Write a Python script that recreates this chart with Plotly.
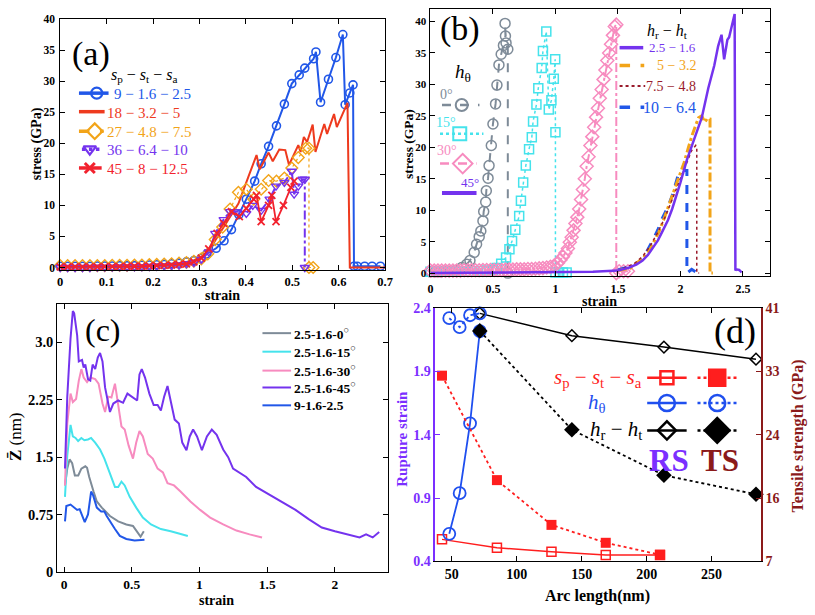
import plotly.graph_objects as go

# ================= DATA =================
# ---- panel (a): stress vs strain for s_p - s_t - s_a ----
a_names = ["9 − 1.6 − 2.5", "18 − 3.2 − 5", "27 − 4.8 − 7.5", "36 − 6.4 − 10", "45 − 8 − 12.5"]
a_low_strain = [0, 0.016, 0.032, 0.048, 0.064, 0.08, 0.096, 0.112, 0.128, 0.144, 0.16, 0.176,
                0.192, 0.208, 0.224, 0.24, 0.256, 0.272, 0.288]

a1_strain = a_low_strain + [0.304, 0.316, 0.336, 0.353, 0.369, 0.385, 0.401, 0.419, 0.433, 0.449, 0.466,
                            0.483, 0.499, 0.515, 0.527, 0.546, 0.551, 0.561, 0.578, 0.594, 0.609, 0.614,
                            0.624, 0.631, 0.633, 0.64, 0.656, 0.672, 0.69]
a1_stress = [0.2, 0.2, 0.2, 0.2, 0.2, 0.25, 0.25, 0.25, 0.3, 0.3, 0.3, 0.35, 0.4, 0.45, 0.5, 0.6, 0.7, 0.9, 1.1,
             1.5, 2.2, 3.1, 4.3, 6.1, 8.5, 11.0, 13.9, 16.7, 19.5, 22.8, 26.3, 29.6, 31.0, 32.1, 33.6, 34.7,
             26.6, 30.3, 33.8, 37.5, 26.2, 28.1, 29.4, 0.2, 0.2, 0.2, 0.2, 0.2]

a2_strain = [0, 0.05, 0.1, 0.15, 0.2, 0.25, 0.28, 0.3, 0.32, 0.352, 0.384, 0.405, 0.423, 0.430, 0.449,
             0.458, 0.472, 0.485, 0.493, 0.513, 0.518, 0.525, 0.532, 0.544, 0.550, 0.569, 0.575, 0.590,
             0.596, 0.619, 0.624, 0.66, 0.7]
a2_stress = [0.1, 0.1, 0.15, 0.2, 0.3, 0.5, 0.9, 1.5, 2.7, 6.5, 10.3, 14.5, 18.1, 15.8, 18.5,
             17.1, 19.0, 18.9, 16.5, 19.7, 18.6, 21.0, 20.2, 23.0, 18.6, 23.1, 21.5, 24.7,
             22.6, 26.5, 0, 0, 0]

a3_strain = a_low_strain + [0.304, 0.318, 0.334, 0.35, 0.366, 0.384, 0.401, 0.417, 0.433, 0.449, 0.466,
                            0.483, 0.499, 0.513, 0.529, 0.536, 0.536, 0.545]
a3_stress = [0.3, 0.3, 0.3, 0.3, 0.3, 0.3, 0.3, 0.35, 0.35, 0.35, 0.4, 0.4, 0.45, 0.5, 0.55, 0.6, 0.7, 0.8, 1.0,
             1.4, 2.2, 4.5, 6.5, 9.4, 12.1, 12.6, 11.0, 12.6, 14.0, 13.9, 14.4, 16.0, 17.7, 19.2, 19.2, 0, 0]

a4_strain = a_low_strain + [0.304, 0.32, 0.334, 0.352, 0.366, 0.381, 0.401, 0.415, 0.433, 0.451, 0.465,
                            0.483, 0.499, 0.504, 0.513, 0.522, 0.527, 0.527]
a4_stress = [0.0, 0.0, 0.0, 0.0, 0.0, 0.05, 0.05, 0.05, 0.1, 0.1, 0.1, 0.1, 0.15, 0.2, 0.25, 0.3, 0.4, 0.6, 0.8,
             1.3, 2.5, 5.5, 7.7, 9.0, 9.0, 8.7, 10.0, 9.2, 11.0, 13.1, 13.7, 15.5, 11.8, 13.1, 14.2, 14.2, 0]

a5_strain = a_low_strain + [0.304, 0.32, 0.338, 0.352, 0.369, 0.386, 0.401, 0.417, 0.423, 0.433, 0.449,
                            0.456, 0.465, 0.481, 0.497, 0.504]
a5_stress = [0.1, 0.1, 0.1, 0.1, 0.1, 0.1, 0.15, 0.15, 0.15, 0.2, 0.2, 0.2, 0.25, 0.3, 0.35, 0.4, 0.5, 0.6, 0.9,
             1.5, 3.0, 5.5, 7.1, 9.0, 8.2, 9.5, 11.0, 11.6, 7.4, 10.0, 11.6, 7.4, 10.0, 12.9, 13.9]

# ---- panel (b): stress vs strain for h_theta and h_r - h_t ----
b_theta_names = ["0°", "15°", "30°", "45°"]
b_hrht_names = ["2.5 − 1.6", "5 − 3.2", "7.5 − 4.8", "10 − 6.4"]

b0_strain = [0, 0.04, 0.08, 0.12, 0.16, 0.2, 0.25, 0.29, 0.316, 0.35, 0.369, 0.39, 0.403, 0.42, 0.426,
             0.442, 0.447, 0.461, 0.469, 0.487, 0.5, 0.521, 0.532, 0.548, 0.566, 0.584, 0.6, 0.597,
             0.605, 0.619, 0.619]
b0_stress = [0.2, 0.2, 0.2, 0.3, 0.3, 0.4, 0.9, 1.4, 2.0, 3.3, 4.6, 5.8, 6.7, 8.3, 9.8,
             11.3, 13.1, 15.1, 17.1, 20.3, 23.7, 26.9, 29.9, 33.1, 34.8, 36.2, 37.7, 39.7,
             36.6, 35.6, 0]

b15_strain = [0, 0.05, 0.1, 0.15, 0.2, 0.25, 0.3, 0.35, 0.4, 0.45, 0.5, 0.53, 0.566, 0.605, 0.632,
              0.653, 0.679, 0.71, 0.724, 0.742, 0.763, 0.789, 0.811, 0.821, 0.848, 0.863, 0.89, 0.9,
              0.927, 0.947, 0.968, 0.987, 0.998, 1.0, 1.0, 1.03, 1.06, 1.09]
b15_stress = [0.2, 0.2, 0.2, 0.2, 0.2, 0.25, 0.3, 0.3, 0.35, 0.4, 0.5, 0.8, 1.5, 2.5, 3.8,
              5.1, 6.9, 9.1, 11.5, 14.4, 17.1, 19.7, 21.6, 24.1, 26.8, 29.4, 32.6, 35.3,
              38.4, 26.0, 27.5, 30.9, 34.0, 22.4, 0.1, 0.1, 0.1, 0.1]

b30_strain = [0, 0.03, 0.06, 0.09, 0.12, 0.15, 0.18, 0.21, 0.24, 0.27, 0.3, 0.33, 0.36, 0.39, 0.42,
              0.45, 0.48, 0.51, 0.54, 0.57, 0.6, 0.63, 0.66, 0.69, 0.72, 0.75, 0.78, 0.81, 0.84, 0.87,
              0.9, 0.93, 0.96, 0.99, 1.02, 1.04, 1.06, 1.08, 1.10, 1.115, 1.13, 1.145, 1.16, 1.175,
              1.19, 1.205, 1.22, 1.235, 1.25, 1.265, 1.28, 1.295, 1.31, 1.325, 1.34, 1.355, 1.37,
              1.385, 1.40, 1.415, 1.43, 1.445, 1.46, 1.475, 1.487, 1.487, 1.51, 1.545, 1.58]
b30_stress = [0.4, 0.4, 0.4, 0.4, 0.4, 0.4, 0.4, 0.4, 0.4, 0.45, 0.45, 0.45, 0.45, 0.45, 0.5,
              0.5, 0.5, 0.5, 0.5, 0.5, 0.55, 0.55, 0.55, 0.6, 0.6, 0.6, 0.65, 0.65, 0.7, 0.75,
              0.8, 0.9, 1.0, 1.2, 1.6, 2.1, 2.6, 3.2, 3.9, 4.9, 5.7, 6.8, 7.9, 8.9,
              10.2, 11.7, 13.3, 15.0, 17.0, 18.5, 20.3, 21.7, 23.2, 24.8, 26.2, 27.8, 29.2,
              30.8, 32.3, 33.8, 35.0, 36.4, 37.8, 39.2, 39.5, 0, 0.3, 0.3, 0.3]

b45_strain = [0, 0.5, 1.0, 1.3, 1.5, 1.592, 1.65, 1.697, 1.74, 1.776, 1.82, 1.855, 1.9, 1.934, 1.97,
              2.0, 2.052, 2.105, 2.171, 2.223, 2.271, 2.302, 2.329, 2.35, 2.376, 2.39, 2.407, 2.434,
              2.44, 2.447, 2.47, 2.49]
b45_stress = [0, 0.05, 0.1, 0.2, 0.4, 0.9, 1.4, 2.0, 2.9, 4.0, 5.2, 6.6, 8.4, 10.2, 12.3,
              14.4, 18.0, 21.1, 24.7, 29.4, 33.0, 36.1, 37.9, 34.0, 37.1, 37.5, 38.9, 41.2,
              0.4, 0.6, 0.5, 0.1]

b5_strain = [1.5, 1.6, 1.645, 1.7, 1.75, 1.79, 1.829, 1.87, 1.908, 1.95, 1.987, 2.03, 2.066, 2.1, 2.145,
             2.17, 2.197, 2.215, 2.237, 2.237, 2.26]
b5_stress = [0.4, 0.8, 1.5, 2.4, 3.5, 5.0, 6.6, 8.7, 10.8, 12.9, 14.9, 17.6, 20.1, 22.3, 24.7,
             25.0, 24.0, 24.6, 24.5, 0, 0]

b75_strain = [1.5, 1.63, 1.7, 1.76, 1.82, 1.88, 1.94, 2.0, 2.05, 2.09, 2.123, 2.131, 2.131, 2.15]
b75_stress = [0.4, 1.5, 2.7, 4.4, 6.5, 9.0, 12.0, 15.0, 17.5, 19.5, 20.3, 20.0, 0, 0]

b10_strain = [1.5, 1.62, 1.684, 1.73, 1.776, 1.82, 1.855, 1.9, 1.934, 1.96, 1.987, 2.02, 2.052, 2.052,
              2.07, 2.09, 2.12]
b10_stress = [0.5, 1.2, 2.0, 3.4, 5.1, 6.9, 8.7, 10.5, 12.3, 14.0, 15.9, 16.3, 16.3, 0,
              0.3, 0.6, 0.2]

# ---- panel (c): Z-bar vs strain ----
c_names = ["2.5-1.6-0", "2.5-1.6-15", "2.5-1.6-30", "2.5-1.6-45", "9-1.6-2.5"]
c0_strain = [0.007, 0.024, 0.041, 0.06, 0.08, 0.105, 0.128, 0.157, 0.17, 0.186, 0.218, 0.242, 0.279,
             0.339, 0.4, 0.46, 0.509, 0.533, 0.565, 0.589]
c0_z = [1.13, 1.35, 1.47, 1.42, 1.26, 1.26, 1.35, 1.38, 1.36, 1.24, 1.05, 0.92, 0.84,
        0.73, 0.66, 0.62, 0.60, 0.54, 0.46, 0.53]
c15_strain = [0.007, 0.024, 0.048, 0.065, 0.085, 0.104, 0.128, 0.15, 0.177, 0.2, 0.23, 0.266, 0.298,
              0.327, 0.351, 0.376, 0.4, 0.424, 0.448, 0.485, 0.533, 0.582, 0.642, 0.715, 0.788,
              0.848, 0.914]
c15_z = [0.98, 1.52, 1.92, 1.77, 1.75, 1.71, 1.75, 1.72, 1.73, 1.75, 1.69, 1.60, 1.48,
         1.35, 1.24, 1.11, 1.11, 1.18, 1.13, 0.98, 0.84, 0.71, 0.62, 0.56, 0.53,
         0.50, 0.47]
c30_strain = [0.007, 0.024, 0.048, 0.065, 0.089, 0.109, 0.128, 0.145, 0.17, 0.194, 0.23, 0.255, 0.284,
              0.303, 0.327, 0.35, 0.376, 0.4, 0.424, 0.448, 0.477, 0.509, 0.533, 0.557, 0.582,
              0.618, 0.655, 0.691, 0.73, 0.764, 0.812, 0.86, 0.933, 1.005, 1.079, 1.175, 1.273,
              1.37, 1.462]
c30_z = [1.13, 1.94, 2.33, 2.22, 2.26, 2.50, 2.65, 2.54, 2.48, 2.54, 2.52, 2.46, 2.20,
         2.09, 2.29, 2.28, 2.46, 2.20, 1.90, 1.86, 1.65, 1.48, 1.69, 1.84, 1.77,
         1.54, 1.48, 1.35, 1.30, 1.16, 1.13, 1.05, 0.92, 0.81, 0.71, 0.62, 0.54,
         0.49, 0.45]
c45_strain = [0.007, 0.024, 0.048, 0.065, 0.075, 0.097, 0.109, 0.133, 0.145, 0.157, 0.177, 0.194,
              0.211, 0.23, 0.249, 0.266, 0.284, 0.303, 0.339, 0.364, 0.4, 0.436, 0.468, 0.497,
              0.54, 0.557, 0.574, 0.598, 0.63, 0.662, 0.691, 0.715, 0.739, 0.764, 0.793, 0.817,
              0.848, 0.873, 0.904, 0.928, 0.953, 0.982, 1.018, 1.055, 1.091, 1.127, 1.175, 1.212,
              1.248, 1.297, 1.345, 1.418, 1.515, 1.612, 1.709, 1.806, 1.903, 2.0, 2.097, 2.182,
              2.23, 2.279, 2.327]
c45_z = [1.35, 2.29, 3.05, 3.41, 3.38, 3.09, 2.75, 2.77, 2.67, 2.71, 2.52, 2.50,
         2.71, 2.65, 2.80, 2.86, 2.75, 2.41, 2.09, 2.20, 2.24, 2.21, 2.33, 2.29,
         2.24, 2.58, 2.65, 2.54, 2.33, 2.18, 2.18, 2.11, 2.29, 2.43, 2.20, 1.99,
         1.94, 1.69, 1.59, 1.77, 1.86, 1.77, 1.59, 1.77, 1.86, 1.79, 1.60, 1.50,
         1.35, 1.30, 1.24, 1.11, 1.01, 0.90, 0.81, 0.69, 0.58, 0.53, 0.49, 0.45,
         0.49, 0.45, 0.52]
c9_strain = [0.007, 0.017, 0.048, 0.08, 0.097, 0.115, 0.133, 0.153, 0.177, 0.2, 0.215, 0.242, 0.274,
             0.298, 0.315, 0.339, 0.376, 0.412, 0.46, 0.521, 0.594]
c9_z = [0.66, 0.86, 0.88, 0.84, 0.81, 0.82, 0.75, 0.65, 0.75, 1.05, 1.0, 0.84, 0.79,
        0.79, 0.73, 0.66, 0.56, 0.47, 0.43, 0.41, 0.42]

# ---- panel (d): rupture strain / tensile strength vs arc length ----
d_names = ["s_p − s_t − s_a", "h_θ", "h_r − h_t"]
d_sp_arc = [42.4, 84.7, 126.7, 168.5, 210.3]
d_sp_rs = [0.574, 0.508, 0.477, 0.451, 0.451]
d_sp_ts = [31.9, 17.9, 11.9, 9.5, 7.9]
d_ht_arc = [48.0, 56.0, 64.0, 71.5]
d_ht_rs = [0.618, 0.938, 1.489, 2.215]
d_ht_ts = [39.6, 38.4, 40.0, 40.25]
d_hr_arc = [71.5, 142.4, 213.3, 284.2]
d_hr_rs = [2.356, 2.18, 2.09, 1.995]
d_hr_ts = [37.9, 24.65, 18.55, 16.0]

# ================= STYLE =================
SERIF = "Liberation Serif, DejaVu Serif, serif"
C_BLUE = "#2157E8"
C_RED = "#EE3A1E"
C_ORANGE = "#F2A419"
C_PURPLE = "#7433EE"
C_RED2 = "#F2222E"
C_GRAY = "#7E8B98"
C_CYAN = "#45E3EC"
C_PINK = "#F78BBF"
C_DARKRED = "#9A1B2C"
C_DRED = "#8B1A1A"
C_DPURPLE = "#7B2FFF"
C_DBLUE = "#1F4FEF"
C_DRED_MK = "#FF1E1E"

W, H = 815, 615
def px(x):
    return x / W
def py(y):
    return 1 - y / H

fig = go.Figure()

def add(x, y, xa, ya, **kw):
    fig.add_trace(go.Scatter(x=x, y=y, xaxis=xa, yaxis=ya, showlegend=False,
                             cliponaxis=False, hoverinfo="skip", **kw))

# ---------- panel (a) ----------
add(a1_strain, a1_stress, "x", "y", mode="lines+markers", line=dict(color=C_BLUE, width=2),
    marker=dict(symbol="circle-open", size=8, color=C_BLUE, line=dict(width=1.6)))
add(a2_strain, a2_stress, "x", "y", mode="lines", line=dict(color=C_RED, width=2))
add(a3_strain, a3_stress, "x", "y", mode="lines+markers", line=dict(color=C_ORANGE, width=1.2, dash="dot"),
    marker=dict(symbol="diamond-open", size=9, color=C_ORANGE, line=dict(width=1.4)))
add(a4_strain, a4_stress, "x", "y", mode="lines+markers", line=dict(color=C_PURPLE, width=2, dash="dashdot"),
    marker=dict(symbol="triangle-down-open", size=8, color=C_PURPLE, line=dict(width=1.4)))
add(a5_strain, a5_stress, "x", "y", mode="lines+markers", line=dict(color=C_RED2, width=1.8),
    marker=dict(symbol="x-thin", size=7, color=C_RED2, line=dict(width=1.8, color=C_RED2)))

# ---------- panel (b) ----------
add(b0_strain, b0_stress, "x2", "y2", mode="lines+markers", line=dict(color=C_GRAY, width=2, dash="dash"),
    marker=dict(symbol="circle-open", size=10, color=C_GRAY, line=dict(width=1.5)))
add(b15_strain, b15_stress, "x2", "y2", mode="lines+markers", line=dict(color=C_CYAN, width=1.5, dash="dot"),
    marker=dict(symbol="square-open", size=9, color=C_CYAN, line=dict(width=1.5)))
add(b30_strain, b30_stress, "x2", "y2", mode="lines+markers", line=dict(color=C_PINK, width=2, dash="dashdot"),
    marker=dict(symbol="diamond-open", size=10, color=C_PINK, line=dict(width=1.5)))
add(b10_strain, b10_stress, "x2", "y2", mode="lines", line=dict(color=C_BLUE, width=3, dash="dash"))
add(b5_strain, b5_stress, "x2", "y2", mode="lines", line=dict(color=C_ORANGE, width=3, dash="dashdot"))
add(b75_strain, b75_stress, "x2", "y2", mode="lines", line=dict(color=C_DARKRED, width=1.5, dash="dot"))
add(b45_strain, b45_stress, "x2", "y2", mode="lines", line=dict(color=C_PURPLE, width=2.5))

# ---------- panel (c) ----------
c_colors = [C_GRAY, C_CYAN, C_PINK, C_PURPLE, C_BLUE]
for xs, ys, col in zip([c0_strain, c15_strain, c30_strain, c45_strain, c9_strain],
                       [c0_z, c15_z, c30_z, c45_z, c9_z], c_colors):
    add(xs, ys, "x3", "y3", mode="lines", line=dict(color=col, width=2))

# ---------- panel (d) ----------
add(d_sp_arc, d_sp_rs, "x4", "y4", mode="lines+markers", line=dict(color=C_DRED_MK, width=1.5),
    marker=dict(symbol="square-open", size=9, color=C_DRED_MK, line=dict(width=1.5)))
add(d_hr_arc, d_hr_rs, "x4", "y4", mode="lines+markers", line=dict(color="black", width=1.5),
    marker=dict(symbol="diamond-open", size=9, color="black", line=dict(width=1.5)))
add(d_ht_arc, d_ht_rs, "x4", "y4", mode="lines+markers", line=dict(color=C_DBLUE, width=1.8),
    marker=dict(symbol="circle-open", size=12, color=C_DBLUE, line=dict(width=1.8)))
add(d_sp_arc, d_sp_ts, "x4", "y5", mode="lines+markers", line=dict(color=C_DRED_MK, width=1.8, dash="dot"),
    marker=dict(symbol="square", size=10, color=C_DRED_MK))
add(d_ht_arc, d_ht_ts, "x4", "y5", mode="lines+markers", line=dict(color=C_DBLUE, width=1.8, dash="dot"),
    marker=dict(symbol="circle-open", size=12, color=C_DBLUE, line=dict(width=1.8)))
add(d_hr_arc, d_hr_ts, "x4", "y5", mode="lines+markers", line=dict(color="black", width=1.8, dash="dot"),
    marker=dict(symbol="diamond", size=12, color="black"))

# ================= LEGEND GLYPHS (pixel overlay) =================
def gline(x0, x1, y, color, dash="solid", width=2):
    add([x0, x1], [y, y], "x6", "y6", mode="lines", line=dict(color=color, dash=dash, width=width))

def gmark(x, y, color, symbol, size, lw=1.8):
    add([x], [y], "x6", "y6", mode="markers",
        marker=dict(symbol=symbol, size=size, color=color, line=dict(width=lw, color=color)))

def txt(x, y, s, size, color="black", bold=False, angle=0, xanchor="center", family=SERIF):
    fig.add_annotation(x=x, y=y, xref="x6", yref="y6", text=s, showarrow=False, textangle=angle,
                       xanchor=xanchor, yanchor="middle",
                       font=dict(family=family, size=size, color=color,
                                 weight="bold" if bold else "normal"))

# (a) legend
txt(89, 48, "(a)", 34)
txt(143, 70, "<i>s</i><sub>p</sub> − <i>s</i><sub>t</sub> − <i>s</i><sub>a</sub>", 16)
a_rows = [88.3, 107.3, 127.3, 145.7, 165.0]
gline(77, 107, a_rows[0], C_BLUE, width=3.5); gmark(95, a_rows[0], C_BLUE, "circle-open", 11, 2.2)
gline(77, 103, a_rows[1], C_RED, width=3.5)
gline(77, 102, a_rows[2], C_ORANGE, width=3.5, dash="dash"); gmark(93, a_rows[2], C_ORANGE, "diamond-open", 12, 2.2)
gline(80, 100, a_rows[3], C_PURPLE, width=3.5, dash="dot"); gmark(88, a_rows[3], C_PURPLE, "triangle-down-open", 11, 2.2)
gline(77, 100, a_rows[4], C_RED2, width=3.5); gmark(88, a_rows[4], C_RED2, "x-thin", 10, 3)
a_colors = [C_BLUE, C_RED, C_ORANGE, C_PURPLE, C_RED2]
for i, (nm, col) in enumerate(zip(a_names, a_colors)):
    txt(110 if i == 0 else 103, a_rows[i] + 1, nm, 15, col, xanchor="left")

# (b) legends
txt(463, 23, "(b)", 34)
txt(466, 68, "<i>h</i><sub>θ</sub>", 19)
txt(450, 90, b_theta_names[0], 14, C_GRAY)
gline(445, 483, 100.5, C_GRAY, dash="dash", width=2.5); gmark(465, 100.5, C_GRAY, "circle-open", 12, 2)
txt(449, 118, b_theta_names[1], 14, C_CYAN)
gline(443, 487, 130, C_CYAN, dash="dot", width=2.5); gmark(463, 130, C_CYAN, "square-open", 13, 2)
txt(450, 147, b_theta_names[2], 14, C_PINK)
gline(443, 480, 160.5, C_PINK, dash="dash", width=2.5); gmark(466, 160.5, C_PINK, "diamond-open", 15, 2)
txt(473, 180, b_theta_names[3], 13, C_PURPLE)
gline(445, 480, 190.7, C_PURPLE, width=4)

txt(674, 25, "<i>h</i><sub>r</sub> − <i>h</i><sub>t</sub>", 16)
hr_rows = [41.7, 60.0, 81.0, 102.7]
gline(625, 649, hr_rows[0], C_PURPLE, width=3.5)
gline(625, 650, hr_rows[1], C_ORANGE, width=3.5, dash="dash")
gline(625, 651, hr_rows[2], C_DARKRED, width=2, dash="dot")
gline(625, 650, hr_rows[3], C_BLUE, width=3.5, dash="dash")
hr_colors = [C_PURPLE, C_ORANGE, C_DARKRED, C_BLUE]
hr_sizes = [13, 14, 14, 16]
for nm, col, yy, sz in zip(b_hrht_names, hr_colors, hr_rows, hr_sizes):
    txt(705, yy, nm, sz, col, xanchor="right")

# (c) legend
txt(101, 331, "(c)", 32)
c_rows = [334.3, 353.3, 372.7, 390.0, 408.3]
for i, (nm, col) in enumerate(zip(c_names, c_colors)):
    gline(263, 292, c_rows[i], col, width=2)
    label = nm + ("<sup>○</sup>" if i < 4 else "")
    txt(293, c_rows[i], label, 13.5, "black", bold=True, xanchor="left")

# (d) legend
txt(742, 332, "(d)", 36)
d_rows = [380.0, 406.0, 434.0]
d_cols = [C_DRED_MK, C_DBLUE, "black"]
d_open = ["square-open", "circle-open", "diamond-open"]
d_fill = ["square", "circle-open", "diamond"]
d_osz = [13, 16, 14]
d_fsz = [16, 16, 19]
for i in range(3):
    gline(653, 693, d_rows[i], d_cols[i], width=2.5)
    gmark(673, d_rows[i], d_cols[i], d_open[i], d_osz[i], 2.5)
    gline(704, 745, d_rows[i], d_cols[i], width=2.5, dash="dot")
    gmark(724, d_rows[i], d_cols[i], d_fill[i], d_fsz[i], 2.5)
txt(650, d_rows[0], "<i>s</i><sub>p</sub> − <i>s</i><sub>t</sub> − <i>s</i><sub>a</sub>", 21, C_DRED_MK, xanchor="right")
txt(602, d_rows[1], "<i>h</i><sub>θ</sub>", 21, C_DBLUE)
txt(650, d_rows[2], "<i>h</i><sub>r</sub> − <i>h</i><sub>t</sub>", 21, "black", xanchor="right")
txt(675, 465, "RS", 31, C_DPURPLE, bold=True)
txt(727, 465, "TS", 31, C_DRED, bold=True)

# axis titles
txt(222, 296, "strain", 14, bold=True)
txt(34, 140, "stress (GPa)", 14, bold=True, angle=-90)
txt(605, 302, "strain", 14, bold=True)
txt(411, 140, "stress (GPa)", 13.5, bold=True, angle=-90)
txt(216, 608, "strain", 14, bold=True)
txt(12, 440, "<b>Z̄</b> (nm)", 17, angle=-90)
txt(603, 604, "Arc length(nm)", 16, bold=True)
txt(405, 443, "Rupture strain", 15, C_DPURPLE, bold=True, angle=-90)
txt(806, 440, "Tensile strength (GPa)", 16, C_DRED, bold=True, angle=-90)

# ================= AXES =================
def axis(dom, rng, anchor, size=12.5, color="black", mirror="ticks", **kw):
    d = dict(domain=dom, range=rng, anchor=anchor, showline=True, linecolor=color, linewidth=1,
             ticks="inside", ticklen=5, tickcolor=color, mirror=mirror, showgrid=False,
             zeroline=False, fixedrange=True,
             tickfont=dict(family=SERIF, size=size, color=color, weight="bold"))
    d.update(kw)
    return d

layout = dict(
    width=W, height=H, margin=dict(l=0, r=0, t=0, b=0),
    paper_bgcolor="white", plot_bgcolor="rgba(0,0,0,0)", showlegend=False,
    xaxis=axis([px(58), px(387.3)], [0, 0.7], "y", size=12.5, dtick=0.1, tick0=0),
    yaxis=axis([py(269.3), py(12.3)], [-0.36, 40], "x", size=11.5, dtick=5, tick0=0, ticklabelstandoff=2),
    xaxis2=axis([px(433.3), px(777)], [0, 2.713], "y2", size=12, dtick=0.5, tick0=0, ticklabelstandoff=1),
    yaxis2=axis([py(276), py(2)], [-0.5, 42], "x2", size=11, dtick=5, tick0=0, ticklabelstandoff=1),
    xaxis3=axis([px(55), px(390)], [-0.05, 2.39], "y3", size=13.5, dtick=0.5, tick0=0, ticklabelstandoff=0),
    yaxis3=axis([py(579), py(304.5)], [0, 3.5], "x3", size=14.5,
                tickvals=[0, 0.75, 1.5, 2.25, 3.0], ticktext=["0", "0.75", "1.5", "2.25", "3.0"]),
    xaxis4=axis([px(438.3), px(768.3)], [37.3, 288], "y4", size=14,
                tickvals=[50, 100, 150, 200, 250]),
    yaxis4=axis([py(568.3), py(308.3)], [0.4, 2.4], "x4", size=14, color=C_DPURPLE, mirror=False,
                tickvals=[0.4, 0.9, 1.4, 1.9, 2.4], linewidth=1.5),
    yaxis5=axis([py(568.3), py(308.3)], [7, 41], "x4", size=14, color=C_DRED, mirror=False,
                overlaying="y4", side="right", linewidth=1.5,
                tickvals=[7, 15.5, 24, 32.5, 41], ticktext=["7", "16", "24", "33", "41"]),
    xaxis6=dict(domain=[0, 1], range=[0, W], anchor="y6", visible=False, fixedrange=True,
                showticklabels=False),
    yaxis6=dict(domain=[0, 1], range=[H, 0], anchor="x6", visible=False, fixedrange=True,
                showticklabels=False),
)
fig.update_layout(**layout)
fig.write_html("out.html")
